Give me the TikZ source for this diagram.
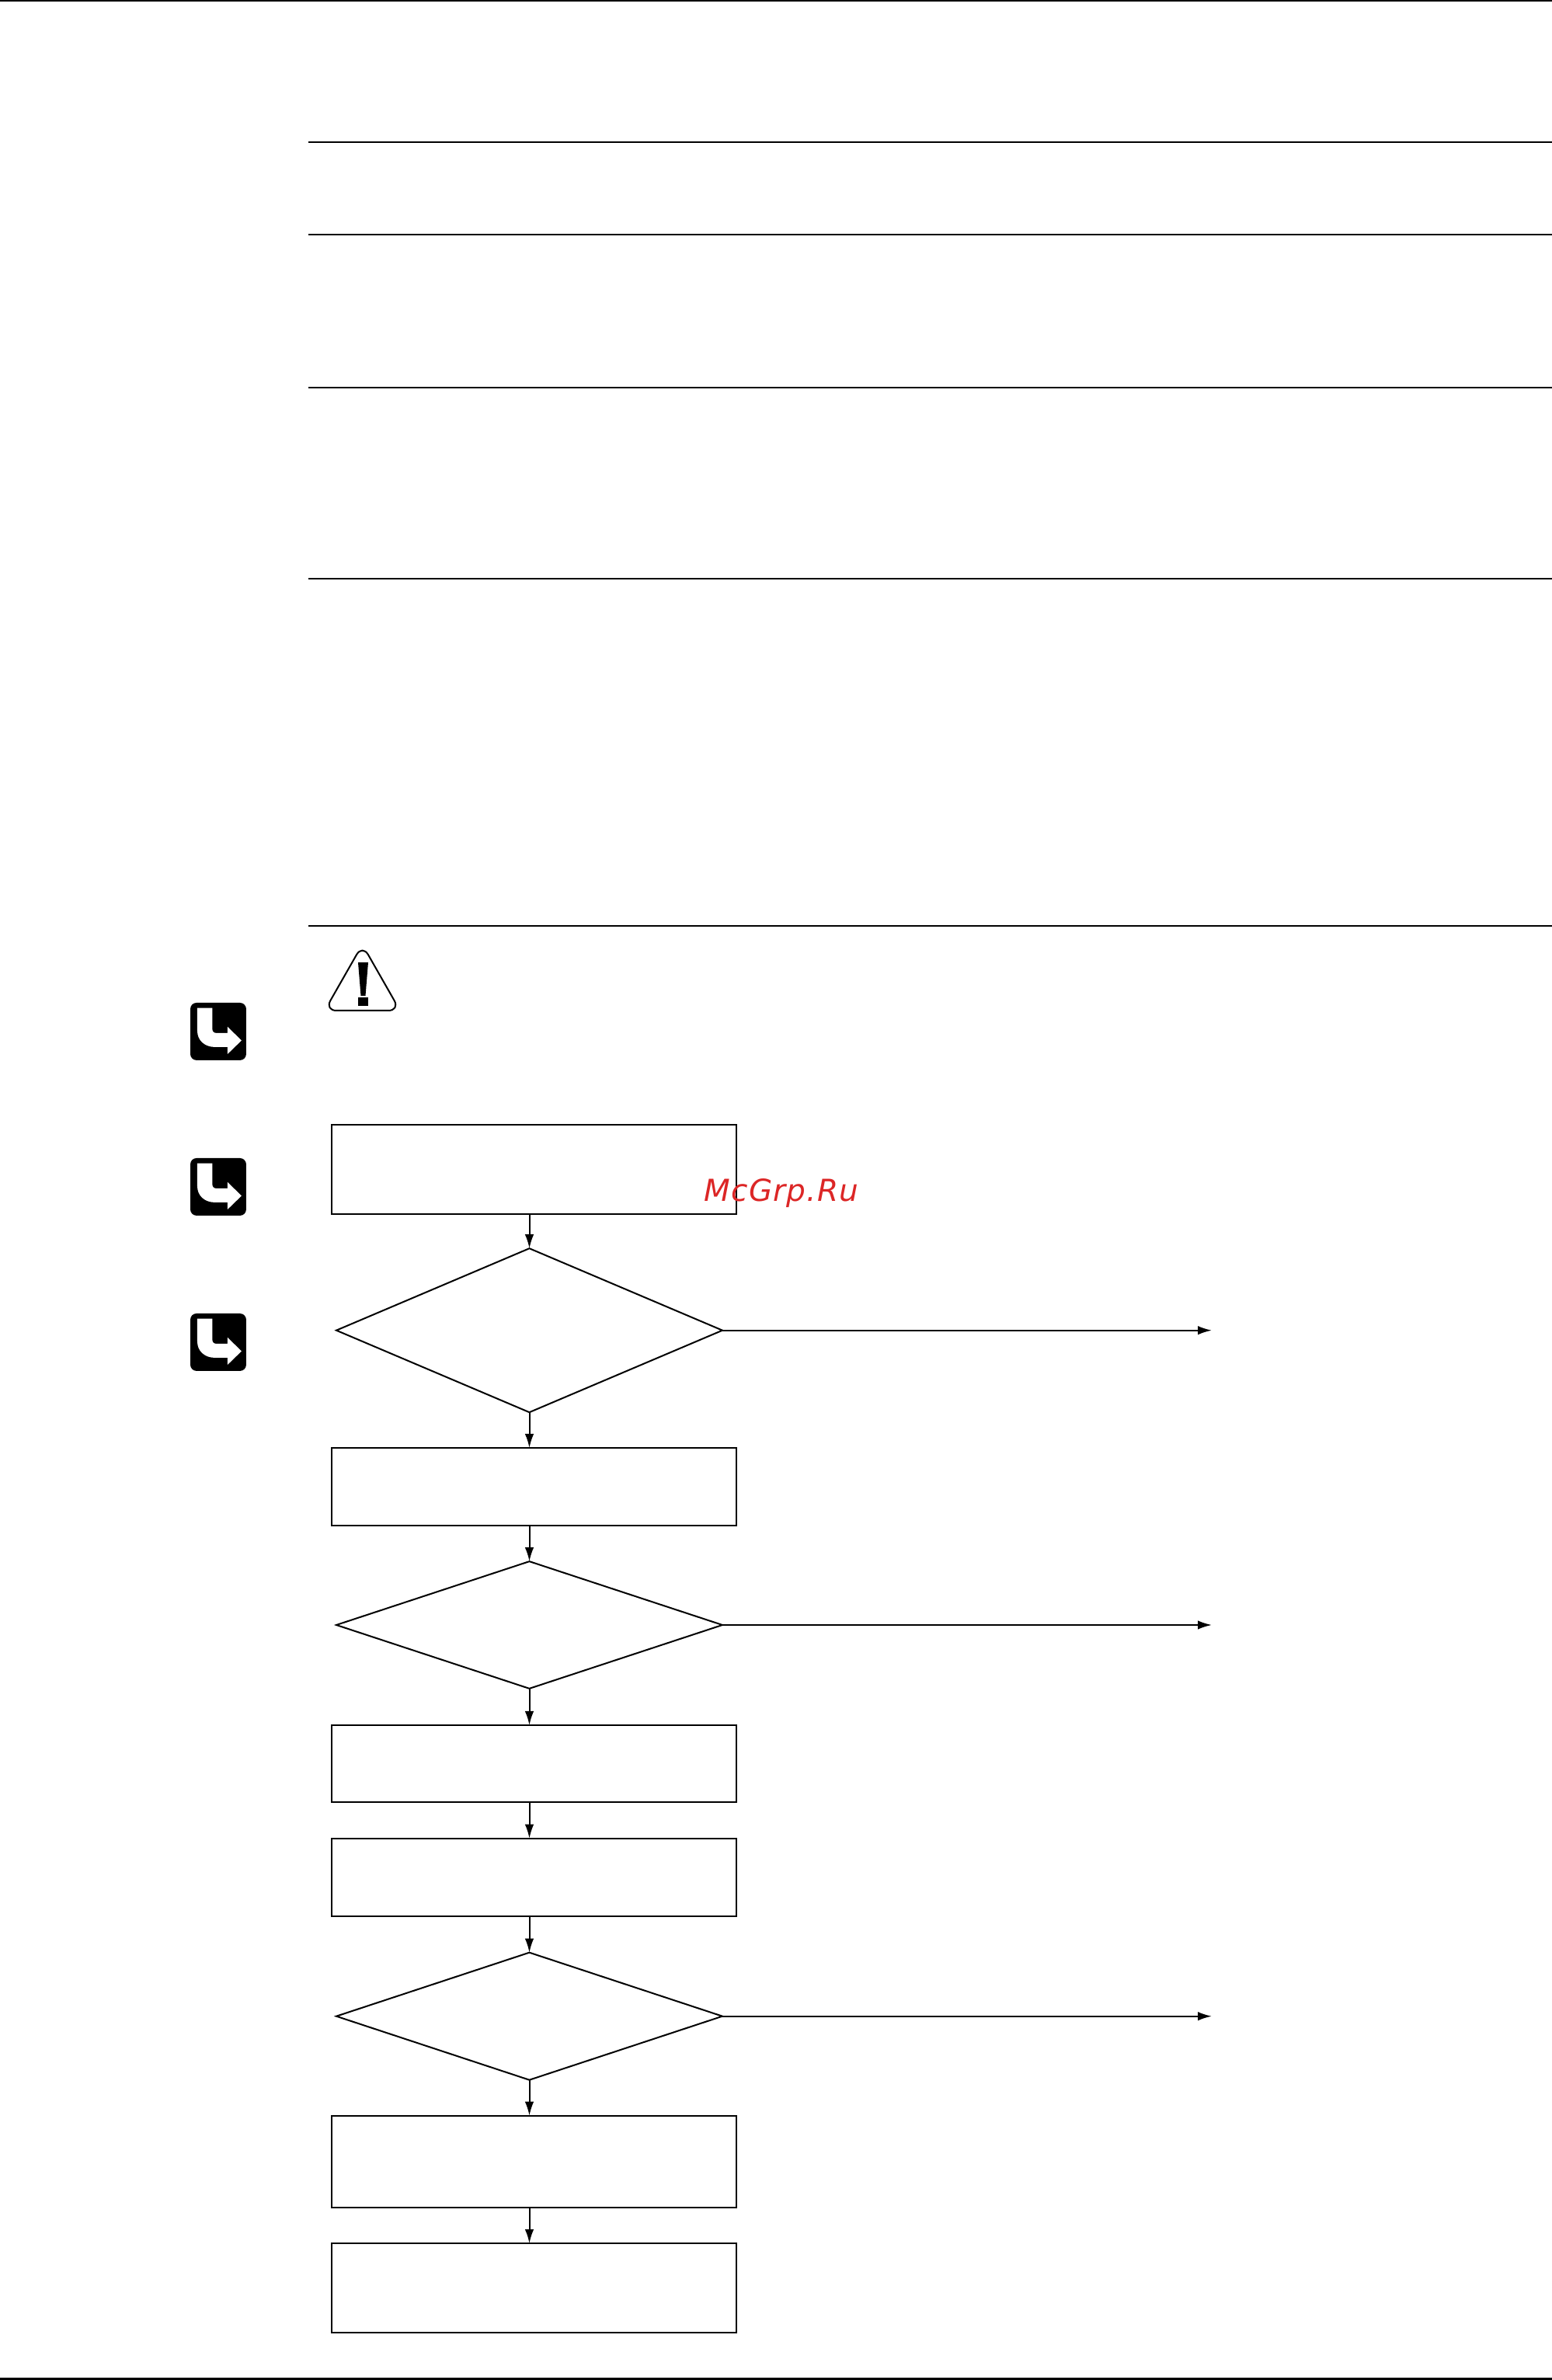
\documentclass[tikz,border=0pt]{standalone}
\usepackage{fontspec}
\newfontfamily\markfont[LetterSpace=3]{DejaVu Sans}
\usetikzlibrary{arrows.meta,calc,shapes.geometric}
\definecolor{markcolor}{RGB}{220,38,38}

\begin{document}
\begin{tikzpicture}[
  thinline/.style={line width=0.02cm, black},
  stepbox/.style={draw, thinline, rectangle, inner sep=0pt, outer sep=0pt, minimum width=5.21cm},
  choice/.style={draw, thinline, diamond, inner sep=0pt, outer sep=0pt, minimum width=4.97cm},
  flow/.style={thinline, -{Latex[length=0.18cm, width=0.115cm]}},
  jumpicon/.pic={
    \begin{scope}[x=0.01cm, y=-0.01cm]
      \fill[black, rounded corners=0.08cm] (0,0) rectangle (72,74);
      \fill[white] (9,6.7) -- (28.3,6.7) -- (28.3,33) .. controls (28.3,37) and (30,39) .. (34,39)
        -- (48,39) -- (48,31) -- (66,48.5) -- (48,66) -- (48,57) -- (32,57)
        .. controls (18,57) and (9,48) .. (9,36) -- cycle;
    \end{scope}
  },
]
\useasboundingbox (0,0) rectangle (19.98,30.64);

% ---------- page rules ----------
\draw[thinline] (0,30.63) -- (19.98,30.63);
\draw[thinline] (3.97,28.81) -- (19.98,28.81);
\draw[thinline] (3.97,27.62) -- (19.98,27.62);
\draw[thinline] (3.97,25.65) -- (19.98,25.65);
\draw[thinline] (3.97,23.19) -- (19.98,23.19);
\draw[thinline] (3.97,18.72) -- (19.98,18.72);
\draw[thinline] (0,0.015) -- (19.98,0.015);

% ---------- warning sign ----------
\draw[thinline, rounded corners=0.15cm] (4.665,18.48) -- (5.15,17.63) -- (4.18,17.63) -- cycle;
\fill[black] (4.61,18.25) -- (4.74,18.25) -- (4.705,17.82) -- (4.645,17.82) -- cycle;
\fill[black] (4.61,17.80) rectangle (4.735,17.69);

% ---------- margin icons ----------
\pic at (2.45,17.73) {jumpicon};
\pic at (2.45,15.73) {jumpicon};
\pic at (2.45,13.73) {jumpicon};

% ---------- flow chart ----------
\node[stepbox, minimum height=1.15cm] (read) at (6.875,15.585) {};
\node[choice, minimum height=2.11cm] (first) at (6.815,13.513) {};
\node[stepbox, minimum height=1.00cm] (adjust) at (6.875,11.50) {};
\node[choice, minimum height=1.637cm] (second) at (6.815,9.72) {};
\node[stepbox, minimum height=0.99cm] (fit) at (6.875,7.935) {};
\node[stepbox, minimum height=1.00cm] (start) at (6.875,6.473) {};
\node[choice, minimum height=1.64cm] (third) at (6.815,4.683) {};
\node[stepbox, minimum height=1.183cm] (close) at (6.875,2.812) {};
\node[stepbox, minimum height=1.147cm] (finish) at (6.875,1.186) {};

\coordinate (exit1) at (15.60,13.513);
\coordinate (exit2) at (15.60,9.72);
\coordinate (exit3) at (15.60,4.683);

\draw[flow] (first.north |- read.south) -- (first.north);
\draw[flow] (first.south) -- (first.south |- adjust.north);
\draw[flow] (second.north |- adjust.south) -- (second.north);
\draw[flow] (second.south) -- (second.south |- fit.north);
\draw[flow] (second.south |- fit.south) -- (second.south |- start.north);
\draw[flow] (third.north |- start.south) -- (third.north);
\draw[flow] (third.south) -- (third.south |- close.north);
\draw[flow] (third.south |- close.south) -- (third.south |- finish.north);

\draw[flow] (first.east) -- (exit1);
\draw[flow] (second.east) -- (exit2);
\draw[flow] (third.east) -- (exit3);

% ---------- watermark ----------
\node[markcolor, font=\markfont\itshape\fontsize{11.1}{13}\selectfont, anchor=base west,
      inner sep=0pt] (mark) at (9.06,15.17) {McGrp.Ru};

\end{tikzpicture}
\end{document}
